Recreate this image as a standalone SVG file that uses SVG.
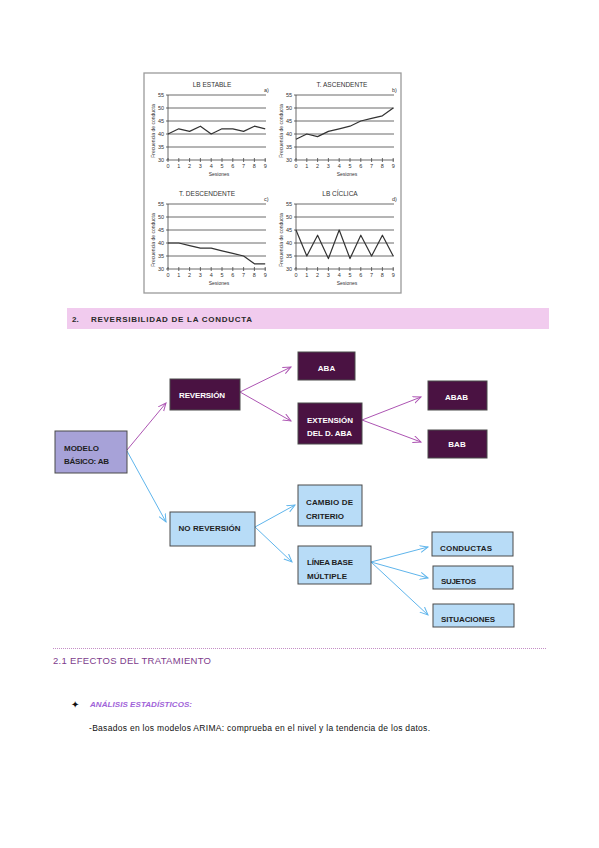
<svg xmlns="http://www.w3.org/2000/svg" width="599" height="848" viewBox="0 0 599 848">
<style>
.ct{font-family:"Liberation Sans",Arial,sans-serif;fill:#333}
.ttl{font-size:6.5px}
.tk{font-size:5.5px}
.lbl{font-size:5px}
.grid{stroke:#444;stroke-width:0.8;fill:none}
.data{stroke:#333;stroke-width:1.2;fill:none;stroke-linejoin:round}
.nd{stroke:#4a4a4a;stroke-width:1}
.dk{fill:#4a1242}
.lb{fill:#b8dcf7}
.lv{fill:#a7a2d8}
.nt{font-family:"Liberation Sans",Arial,sans-serif;font-size:8px;font-weight:bold}
.w{fill:#ffffff}
.b{fill:#1e1e1e}
.pc{stroke:#ad55b3;stroke-width:1;fill:none}
.bc{stroke:#5fb5ec;stroke-width:1;fill:none}
</style>
<defs>
<marker id="ap" markerUnits="userSpaceOnUse" markerWidth="12" markerHeight="12" refX="8" refY="4" orient="auto"><path d="M0,0.5 L8,4 L0,7.5" fill="none" stroke="#ad55b3" stroke-width="1"/></marker>
<marker id="ab" markerUnits="userSpaceOnUse" markerWidth="12" markerHeight="12" refX="8" refY="4" orient="auto"><path d="M0,0.5 L8,4 L0,7.5" fill="none" stroke="#5fb5ec" stroke-width="1"/></marker>
<g id="axes">
<path class="grid" d="M0,0 H98 M0,13 H98 M0,26 H98 M0,39 H98 M0,52 H98"/>
<path class="grid" d="M0,0 V65 M-2,65 H98 M-2,0 H0 M-2,13 H0 M-2,26 H0 M-2,39 H0 M-2,52 H0 M0,63 V67 M10.8,63 V67 M21.6,63 V67 M32.4,63 V67 M43.2,63 V67 M54,63 V67 M64.8,63 V67 M75.6,63 V67 M86.4,63 V67 M97.2,63 V67"/>
<g class="ct tk" text-anchor="end">
<text x="-4" y="2">55</text><text x="-4" y="15">50</text><text x="-4" y="28">45</text><text x="-4" y="41">40</text><text x="-4" y="54">35</text><text x="-4" y="67">30</text>
</g>
<g class="ct tk" text-anchor="middle">
<text x="0" y="73">0</text><text x="10.8" y="73">1</text><text x="21.6" y="73">2</text><text x="32.4" y="73">3</text><text x="43.2" y="73">4</text><text x="54" y="73">5</text><text x="64.8" y="73">6</text><text x="75.6" y="73">7</text><text x="86.4" y="73">8</text><text x="97.2" y="73">9</text>
<text x="51" y="81" class="lbl">Sesiones</text>
<text transform="translate(-13,36) rotate(-90)" class="lbl">Frecuencia de conducta</text>
</g>
</g>
</defs>
<rect width="599" height="848" fill="#ffffff"/>
<g id="charts">
<rect x="144" y="73" width="257" height="220" fill="#ffffff" stroke="#9a9a9a" stroke-width="1.3"/>
<g transform="translate(168,95)">
<use href="#axes"/>
<text class="ct ttl" x="44" y="-8" text-anchor="middle">LB ESTABLE</text>
<text class="ct tk" x="96" y="-3">a)</text>
<polyline class="data" points="0,39 10.8,33.8 21.6,36.4 32.4,31.2 43.2,39 54,33.8 64.8,33.8 75.6,36.4 86.4,31.2 97.2,33.8"/>
</g>
<g transform="translate(296,95)">
<use href="#axes"/>
<text class="ct ttl" x="46" y="-8" text-anchor="middle">T. ASCENDENTE</text>
<text class="ct tk" x="96" y="-3">b)</text>
<polyline class="data" points="0,44.2 10.8,39 21.6,41.6 32.4,36.4 43.2,33.8 54,31.2 64.8,26 75.6,23.4 86.4,20.8 97.2,13"/>
</g>
<g transform="translate(168,204)">
<use href="#axes"/>
<text class="ct ttl" x="39" y="-8" text-anchor="middle">T. DESCENDENTE</text>
<text class="ct tk" x="96" y="-3">c)</text>
<polyline class="data" points="0,39 10.8,39 21.6,41.6 32.4,44.2 43.2,44.2 54,46.8 64.8,49.4 75.6,52 86.4,59.8 97.2,59.8"/>
</g>
<g transform="translate(296,204)">
<use href="#axes"/>
<text class="ct ttl" x="44" y="-8" text-anchor="middle">LB CÍCLICA</text>
<text class="ct tk" x="96" y="-3">d)</text>
<polyline class="data" points="0,26 10.8,52 21.6,31.2 32.4,54.6 43.2,26 54,54.6 64.8,31.2 75.6,52 86.4,31.2 97.2,52"/>
</g>
</g>
<g id="header">
<rect x="67" y="308" width="482" height="21" fill="#f1cbee"/>
<text x="72" y="321.5" font-family="'Liberation Sans',Arial,sans-serif" font-size="8" font-weight="bold" fill="#2a2a2a">2.</text>
<text x="91" y="321.5" font-family="'Liberation Sans',Arial,sans-serif" font-size="8" font-weight="bold" fill="#2a2a2a" textLength="161">REVERSIBILIDAD DE LA CONDUCTA</text>
</g>
<g id="connectors">
<line class="pc" x1="127" y1="450" x2="166" y2="403" marker-end="url(#ap)"/>
<line class="bc" x1="127" y1="451" x2="166" y2="522" marker-end="url(#ab)"/>
<line class="pc" x1="240" y1="392" x2="291" y2="367" marker-end="url(#ap)"/>
<line class="pc" x1="240" y1="392" x2="291" y2="421" marker-end="url(#ap)"/>
<line class="pc" x1="362" y1="420" x2="421" y2="397" marker-end="url(#ap)"/>
<line class="pc" x1="362" y1="420" x2="421" y2="442" marker-end="url(#ap)"/>
<line class="bc" x1="255" y1="527" x2="295" y2="505" marker-end="url(#ab)"/>
<line class="bc" x1="255" y1="527" x2="292" y2="562" marker-end="url(#ab)"/>
<line class="bc" x1="371" y1="562" x2="428" y2="547" marker-end="url(#ab)"/>
<line class="bc" x1="371" y1="562" x2="428" y2="578" marker-end="url(#ab)"/>
<line class="bc" x1="371" y1="562" x2="428" y2="615" marker-end="url(#ab)"/>
</g>
<g id="modelo"><rect class="nd lv" x="55" y="431" width="72" height="42"/><text class="nt b" x="64" y="451.3" textLength="35">MODELO</text><text class="nt b" x="64" y="463.8" textLength="45">BÁSICO: AB</text></g>
<g id="reversion"><rect class="nd dk" x="170" y="379" width="70" height="31"/><text class="nt w" x="179" y="398" textLength="46">REVERSIÓN</text></g>
<g id="aba"><rect class="nd dk" x="298" y="352" width="57" height="28"/><text class="nt w" x="326.5" y="370.7" text-anchor="middle">ABA</text></g>
<g id="extension"><rect class="nd dk" x="298" y="403" width="64" height="41"/><text class="nt w" x="307" y="423" textLength="46">EXTENSIÓN</text><text class="nt w" x="307" y="435.7" textLength="45">DEL D. ABA</text></g>
<g id="abab"><rect class="nd dk" x="428" y="381" width="59" height="29"/><text class="nt w" x="456.5" y="399.7" text-anchor="middle">ABAB</text></g>
<g id="bab"><rect class="nd dk" x="428" y="430" width="59" height="28"/><text class="nt w" x="457" y="447" text-anchor="middle">BAB</text></g>
<g id="noreversion"><rect class="nd lb" x="170" y="512" width="85" height="34"/><text class="nt b" x="178.5" y="530.7" textLength="62">NO REVERSIÓN</text></g>
<g id="cambio"><rect class="nd lb" x="298" y="485" width="64" height="41"/><text class="nt b" x="306" y="505" textLength="47">CAMBIO DE</text><text class="nt b" x="306" y="518.7" textLength="38">CRITERIO</text></g>
<g id="linea"><rect class="nd lb" x="298" y="546" width="73" height="38"/><text class="nt b" x="307" y="564.7" textLength="46">LÍNEA BASE</text><text class="nt b" x="307" y="579" textLength="40">MÚLTIPLE</text></g>
<g id="conductas"><rect class="nd lb" x="432" y="532" width="81" height="24"/><text class="nt b" x="440" y="551.3" textLength="52">CONDUCTAS</text></g>
<g id="sujetos"><rect class="nd lb" x="433" y="566" width="80" height="23"/><text class="nt b" x="441" y="584" textLength="35">SUJETOS</text></g>
<g id="situaciones"><rect class="nd lb" x="433" y="604" width="81" height="23"/><text class="nt b" x="441" y="622.3" textLength="54">SITUACIONES</text></g>
<g id="section">
<line x1="53" y1="648.5" x2="547" y2="648.5" stroke="#c48ec6" stroke-width="1" stroke-dasharray="1,1"/>
<text x="53" y="663.5" font-family="'Liberation Sans',Arial,sans-serif" font-size="9.5" fill="#7d3c8c" textLength="158">2.1 EFECTOS DEL TRATAMIENTO</text>
<text x="71" y="708" font-family="'DejaVu Sans',sans-serif" font-size="10" fill="#111">✦</text>
<text x="90" y="706.5" font-family="'Liberation Sans',Arial,sans-serif" font-size="8" font-style="italic" font-weight="bold" fill="#a062d8" textLength="102">ANÁLISIS ESTADÍSTICOS:</text>
<text x="89" y="730.5" font-family="'Liberation Sans',Arial,sans-serif" font-size="8.5" fill="#111" textLength="341">-Basados en los modelos ARIMA: comprueba en el nivel y la tendencia de los datos.</text>
</g>
</svg>
